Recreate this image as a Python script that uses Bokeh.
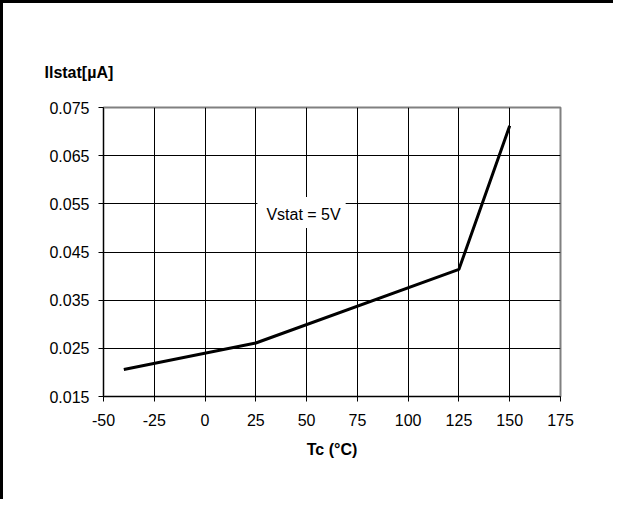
from bokeh.plotting import figure
from bokeh.models import Range1d, FixedTicker, NumeralTickFormatter, Label, Title
from bokeh.embed import file_html
from bokeh.resources import INLINE

# data
tc = [-40, 25, 125, 150]
ilstat = [0.0206, 0.0261, 0.0414, 0.0712]
x_ticks = [-50, -25, 0, 25, 50, 75, 100, 125, 150, 175]
y_ticks = [0.015, 0.025, 0.035, 0.045, 0.055, 0.065, 0.075]
y_title = "Ilstat[µA]"
x_title = "Tc (°C)"
note = "Vstat = 5V"

FONT = "Liberation Sans"

p = figure(output_backend="svg", toolbar_location=None,
           frame_width=457, frame_height=289,
           min_border_left=100, min_border_top=104,
           min_border_right=53, min_border_bottom=103,
           x_range=Range1d(-50, 175), y_range=Range1d(0.015, 0.075))
p.styles = {"border-top": "3px solid black", "border-left": "3px solid black"}

p.background_fill_color = "white"
p.border_fill_color = "white"
p.outline_line_color = "#808080"
p.outline_line_width = 2

for ax in (p.xaxis, p.yaxis):
    ax.major_tick_out = 5
    ax.major_tick_in = 0
    ax.minor_tick_line_color = None
    ax.axis_line_color = "black"
    ax.major_tick_line_color = "black"
    ax.major_label_text_font = FONT
    ax.major_label_text_font_size = "16px"
    ax.major_label_text_color = "black"

p.xaxis.ticker = FixedTicker(ticks=x_ticks)
p.yaxis.ticker = FixedTicker(ticks=y_ticks)
p.xaxis.formatter = NumeralTickFormatter(format="0")
p.yaxis.formatter = NumeralTickFormatter(format="0.000")
p.yaxis.major_label_standoff = 9
p.xaxis.major_label_standoff = 12

p.xaxis.axis_label = x_title
p.xaxis.axis_label_text_font = FONT
p.xaxis.axis_label_text_font_style = "bold"
p.xaxis.axis_label_text_font_size = "16px"
p.xaxis.axis_label_text_color = "black"
p.xaxis.axis_label_standoff = 12

p.xgrid.ticker = FixedTicker(ticks=x_ticks)
p.ygrid.ticker = FixedTicker(ticks=y_ticks)
p.grid.grid_line_color = "black"
p.grid.grid_line_width = 1

p.line(tc, ilstat, line_color="black", line_width=3)

p.add_layout(Title(text=y_title, text_font=FONT, text_font_style="bold",
                   text_font_size="16px", text_color="black",
                   align="left", offset=-59, standoff=54), "above")
p.add_layout(Label(x=47.5, y=0.0532, text=note, text_font=FONT,
                   text_font_size="16px", text_align="center",
                   text_baseline="middle", text_color="black",
                   background_fill_color="white", padding=(9, 5, 9, 5)))

open("out.html", "w").write(file_html(p, INLINE))
